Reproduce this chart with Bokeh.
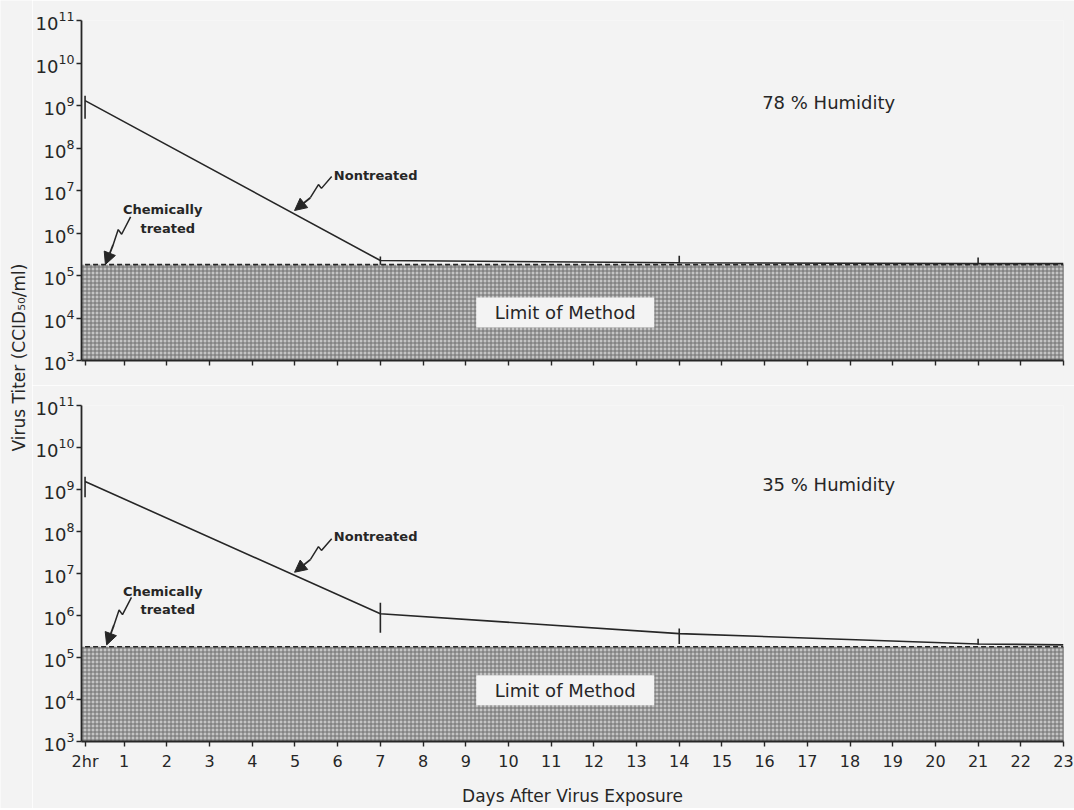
import math
from bokeh.plotting import figure
from bokeh.layouts import row, column
from bokeh.models import FixedTicker, CustomJSTickFormatter, Arrow, NormalHead, Range1d
from bokeh.core.properties import value
from bokeh.embed import file_html
from bokeh.resources import INLINE

FONT = "DejaVu Sans"
INK = "#262626"
BG = "#f3f3f3"

# ---------------- data ----------------
day_ticks = [2 / 24] + list(range(1, 24))
y_ticks = [1e3, 1e4, 1e5, 1e6, 1e7, 1e8, 1e9, 1e10, 1e11]

days = [2 / 24, 7, 14, 21, 23]
err_days = [2 / 24, 7, 14, 21]

# 78 % humidity
nontreated_78 = [1.3e9, 2.25e5, 2.0e5, 1.9e5, 1.9e5]
err_lo_78 = [4.9e8, 1.8e5, 1.95e5, 1.85e5]
err_hi_78 = [1.7e9, 2.8e5, 2.9e5, 2.65e5]
treated_78 = [1.8e5, 1.8e5, 1.8e5, 1.8e5, 1.8e5]

# 35 % humidity
nontreated_35 = [1.55e9, 1.1e6, 3.7e5, 2.1e5, 2.0e5]
err_lo_35 = [6.5e8, 3.9e5, 2.1e5, 2.0e5]
err_hi_35 = [2.0e9, 2.0e6, 4.9e5, 2.8e5]
treated_35 = [1.8e5, 1.8e5, 1.8e5, 1.8e5, 1.8e5]

limit_of_method = 1.8e5
limit_floor = 1e3
limit_span = [0, 23]

TITLE_W = 32
PANEL_W = 1042


def panel(height, b_top, b_bottom, show_labels, nontreated, lo, hi, treated,
          humidity_text, ann):
    p = figure(width=PANEL_W, height=height, x_range=Range1d(0, 23),
               y_range=Range1d(1e3, 1e11), y_axis_type="log",
               output_backend="svg", toolbar_location=None,
               min_border_left=44, min_border_right=11,
               min_border_top=b_top, min_border_bottom=b_bottom,
               background_fill_color=BG, border_fill_color=BG,
               outline_line_color=None)
    p.grid.visible = False

    # limit of method shaded block
    p.quad(left=[limit_span[0]], right=[limit_span[1]], bottom=[limit_floor],
           top=[limit_of_method], fill_color="#c4c4c4", hatch_pattern="+",
           hatch_color="#6e6e6e", hatch_scale=4, hatch_weight=1,
           line_color=None)
    p.segment(x0=[limit_span[1]], x1=[limit_span[1]], y0=[limit_floor],
              y1=[limit_of_method], line_color="#555555", line_width=1)

    # chemically treated (dashed) and nontreated (solid)
    p.line(days, treated, line_color=INK, line_width=1.6, line_dash="5 3")
    p.line(days, nontreated, line_color=INK, line_width=1.6)
    p.segment(x0=err_days, x1=err_days, y0=lo, y1=hi, line_color=INK,
              line_width=1.6)

    # Limit of Method label
    p.rect(x=[ann["limit"][0]], y=[ann["limit"][1]], width=178, height=30,
           width_units="screen", height_units="screen", fill_color=BG,
           line_color=None)
    p.text(x=[ann["limit"][0]], y=[ann["limit"][1]], text=["Limit of Method"],
           text_font=value(FONT), text_font_size="18px", text_color=INK,
           text_align="center", text_baseline="middle")

    # humidity label
    p.text(x=[ann["hum"][0]], y=[ann["hum"][1]], text=[humidity_text],
           text_font=value(FONT), text_font_size="18px", text_color=INK,
           text_align="center", text_baseline="middle")

    # Nontreated annotation
    p.text(x=[ann["nt_text"][0]], y=[ann["nt_text"][1]], text=["Nontreated"],
           text_font=value(FONT), text_font_size="13px", text_font_style="bold",
           text_color=INK, text_align="left", text_baseline="middle")
    sx, sy = ann["nt_squiggle"]
    p.line(sx, sy, line_color=INK, line_width=1.5)
    p.add_layout(Arrow(end=NormalHead(size=12, fill_color=INK, line_color=INK),
                       x_start=sx[-1], y_start=sy[-1],
                       x_end=ann["nt_tip"][0], y_end=ann["nt_tip"][1],
                       line_color=INK, line_width=1.8))

    # Chemically treated annotation
    p.text(x=ann["ct_text"][0], y=ann["ct_text"][1],
           text=["Chemically", "treated"], text_font=value(FONT),
           text_font_size="13px", text_font_style="bold", text_color=INK,
           text_align="center", text_baseline="middle")
    sx, sy = ann["ct_squiggle"]
    p.line(sx, sy, line_color=INK, line_width=1.5)
    p.add_layout(Arrow(end=NormalHead(size=12, fill_color=INK, line_color=INK),
                       x_start=sx[-1], y_start=sy[-1],
                       x_end=ann["ct_tip"][0], y_end=ann["ct_tip"][1],
                       line_color=INK, line_width=1.8))

    # axes
    p.xaxis.ticker = FixedTicker(ticks=day_ticks)
    if show_labels:
        p.xaxis.formatter = CustomJSTickFormatter(
            code="return tick < 0.5 ? '2hr' : tick.toFixed(0);")
    else:
        p.xaxis.formatter = CustomJSTickFormatter(code="return '';")
    p.yaxis.ticker = FixedTicker(ticks=y_ticks)
    for ax in (p.xaxis, p.yaxis):
        ax.axis_line_color = INK
        ax.axis_line_width = 1.8
        ax.major_tick_line_color = INK
        ax.major_tick_line_width = 1.4
        ax.major_tick_in = 0
        ax.major_tick_out = 5
        ax.minor_tick_line_color = None
        ax.major_label_text_font = FONT
        ax.major_label_text_color = INK
    p.yaxis.major_label_text_font_size = "18px"
    p.yaxis.major_label_standoff = 2
    p.xaxis.major_label_text_font_size = "16px"
    p.xaxis.major_label_standoff = 5
    if show_labels:
        p.xaxis.axis_label = "Days After Virus Exposure"
        p.xaxis.axis_label_text_font = FONT
        p.xaxis.axis_label_text_font_size = "17px"
        p.xaxis.axis_label_text_font_style = "normal"
        p.xaxis.axis_label_text_color = INK
        p.xaxis.axis_label_standoff = 12
    return p


L = lambda v: 10 ** v

ann_top = dict(
    limit=(11.33, L(4.13)),
    hum=(17.5, L(9.07)),
    nt_text=(5.91, L(7.35)),
    nt_squiggle=([5.86, 5.62, 5.55, 5.36], [L(7.33), L(7.05), L(7.14), L(6.83)]),
    nt_tip=(4.99, L(6.53)),
    ct_text=([1.90, 2.02], [L(6.55), L(6.11)]),
    ct_squiggle=([1.15, 0.94, 0.86, 0.74], [L(6.38), L(5.97), L(6.08), L(5.72)]),
    ct_tip=(0.56, L(5.26)),
)
ann_bot = dict(
    limit=(11.33, L(4.22)),
    hum=(17.5, L(9.11)),
    nt_text=(5.91, L(7.88)),
    nt_squiggle=([5.86, 5.62, 5.55, 5.36], [L(7.83), L(7.55), L(7.64), L(7.33)]),
    nt_tip=(4.99, L(7.03)),
    ct_text=([1.90, 2.02], [L(6.58), L(6.15)]),
    ct_squiggle=([1.17, 0.96, 0.88, 0.76], [L(6.43), L(6.02), L(6.13), L(5.77)]),
    ct_tip=(0.59, L(5.30)),
)

top = panel(385, 20, 25, False, nontreated_78, err_lo_78, err_hi_78,
            treated_78, "78 % Humidity", ann_top)
bottom = panel(423, 20, 65, True, nontreated_35, err_lo_35, err_hi_35,
               treated_35, "35 % Humidity", ann_bot)

# y-axis title spanning both panels
title = figure(width=TITLE_W, height=808, x_range=Range1d(0, TITLE_W),
               y_range=Range1d(0, 808), output_backend="svg",
               toolbar_location=None, min_border=0, min_border_left=0,
               min_border_right=0, min_border_top=0, min_border_bottom=0,
               background_fill_color=BG, border_fill_color=BG,
               outline_line_color=None)
title.axis.visible = False
title.grid.visible = False
title.text(x=[18], y=[808 - 357], text=["Virus Titer (CCID\u2085\u2080/ml)"],
           angle=math.pi / 2, text_font=value(FONT), text_font_size="17px",
           text_color=INK, text_align="center", text_baseline="middle")

layout = row(title, column(top, bottom))
open("out.html", "w").write(file_html(layout, INLINE))
